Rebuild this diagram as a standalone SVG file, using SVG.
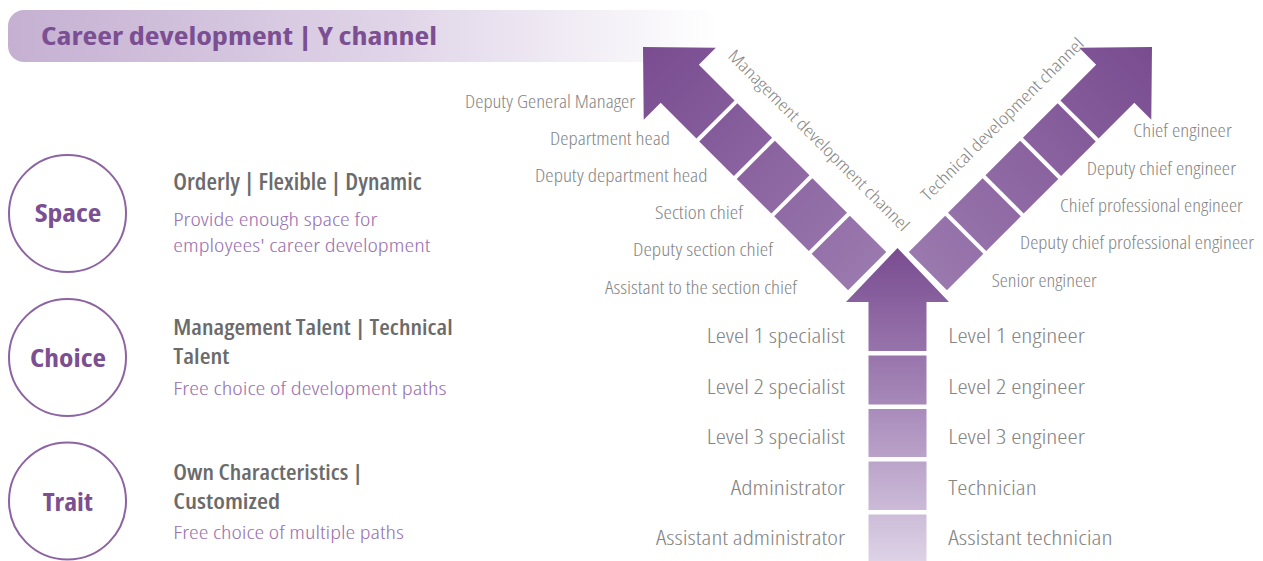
<svg xmlns="http://www.w3.org/2000/svg" width="1263" height="561" viewBox="0 0 1263 561">
<defs>
<linearGradient id="barGrad" x1="8" y1="0" x2="718" y2="0" gradientUnits="userSpaceOnUse">
<stop offset="0" stop-color="#c5b0d2"/>
<stop offset="0.55" stop-color="#e0d5e8"/>
<stop offset="1" stop-color="#ffffff"/>
</linearGradient>
<linearGradient id="diagGrad" x1="0" y1="0" x2="317" y2="0" gradientUnits="userSpaceOnUse">
<stop offset="0" stop-color="#794c90"/>
<stop offset="1" stop-color="#9a79ae"/>
</linearGradient>
<linearGradient id="vertGrad" x1="0" y1="248" x2="0" y2="561" gradientUnits="userSpaceOnUse">
<stop offset="0" stop-color="#794c90"/>
<stop offset="0.45" stop-color="#a282b5"/>
<stop offset="1" stop-color="#ddd2e6"/>
</linearGradient>
<g id="diagArrow">
<polygon points="0,0 52,-51 52,-27 102.5,-27 102.5,27 52,27 52,51"/>
<rect x="106.5" y="-27" width="49" height="54"/>
<rect x="159.5" y="-27" width="49" height="54"/>
<rect x="212.5" y="-27" width="49" height="54"/>
<rect x="265.5" y="-27" width="51.5" height="54"/>
</g>
</defs>
<style>
text{font-stretch:75%;font-family:"Open Sans","Liberation Sans",sans-serif}
.title{font-weight:700;font-size:25px;fill:#7b4f92}
.lbl{font-weight:300;font-size:19px;fill:#858585}
.lvl{font-weight:300;font-size:20.5px;fill:#858585}
.chan{font-weight:300;font-size:17px;fill:#858585}
.circ{fill:none;stroke:#8c63a3;stroke-width:2}
.clbl{font-weight:700;font-size:25px;fill:#7b4f92;text-anchor:middle;font-stretch:87.5%}
.head{font-weight:600;font-size:23px;fill:#6b6b6b}
.head2{font-weight:600;font-size:22px;fill:#6b6b6b}
.sub{font-weight:300;font-size:19px;fill:#9a72b1}
.end{text-anchor:end}
</style>
<rect width="1263" height="561" fill="#ffffff"/>

<g id="title">
<rect x="8" y="10" width="710" height="52" rx="16" fill="url(#barGrad)"/>
<text class="title" x="41" y="45" textLength="396" lengthAdjust="spacingAndGlyphs">Career development | Y channel</text>
</g>

<g id="connectors">
<g id="management-arrow" fill="url(#diagGrad)">
<use href="#diagArrow" transform="translate(643,47) rotate(45)"/>
</g>
<g id="technical-arrow" fill="url(#diagGrad)">
<use href="#diagArrow" transform="translate(1795,0) scale(-1,1) translate(643,47) rotate(45)"/>
</g>
<g id="base-arrow" fill="url(#vertGrad)">
<polygon points="897.5,248 949,302 926.5,302 926.5,351 868.5,351 868.5,302 846,302"/>
<rect x="868.5" y="355.5" width="58" height="49"/>
<rect x="868.5" y="409" width="58" height="48"/>
<rect x="868.5" y="461.5" width="58" height="48.5"/>
<rect x="868.5" y="514.5" width="58" height="46.5"/>
</g>
<text class="chan" transform="translate(727,57) rotate(45)" textLength="248" lengthAdjust="spacingAndGlyphs">Management development channel</text>
<text class="chan" transform="translate(928,202) rotate(-45)" textLength="222" lengthAdjust="spacingAndGlyphs">Technical development channel</text>
</g>

<g id="management-labels">
<text class="lbl end" x="635" y="107.5" textLength="170" lengthAdjust="spacingAndGlyphs">Deputy General Manager</text>
<text class="lbl end" x="670" y="145" textLength="120" lengthAdjust="spacingAndGlyphs">Department head</text>
<text class="lbl end" x="707.5" y="181.5" textLength="172.5" lengthAdjust="spacingAndGlyphs">Deputy department head</text>
<text class="lbl end" x="743" y="218.5" textLength="88" lengthAdjust="spacingAndGlyphs">Section chief</text>
<text class="lbl end" x="773" y="256" textLength="140" lengthAdjust="spacingAndGlyphs">Deputy section chief</text>
<text class="lbl end" x="797" y="293.5" textLength="192" lengthAdjust="spacingAndGlyphs">Assistant to the section chief</text>
</g>

<g id="technical-labels">
<text class="lbl end" x="1231.7" y="137" textLength="98.4" lengthAdjust="spacingAndGlyphs">Chief engineer</text>
<text class="lbl end" x="1236" y="175" textLength="149.3" lengthAdjust="spacingAndGlyphs">Deputy chief engineer</text>
<text class="lbl end" x="1242.7" y="212" textLength="182.7" lengthAdjust="spacingAndGlyphs">Chief professional engineer</text>
<text class="lbl end" x="1254" y="249" textLength="234" lengthAdjust="spacingAndGlyphs">Deputy chief professional engineer</text>
<text class="lbl end" x="1096.7" y="287" textLength="105" lengthAdjust="spacingAndGlyphs">Senior engineer</text>
</g>

<g id="specialist-labels">
<text class="lvl end" x="845" y="342.5" textLength="138.3" lengthAdjust="spacingAndGlyphs">Level 1 specialist</text>
<text class="lvl end" x="845" y="393.5" textLength="138.3" lengthAdjust="spacingAndGlyphs">Level 2 specialist</text>
<text class="lvl end" x="845" y="444" textLength="138.3" lengthAdjust="spacingAndGlyphs">Level 3 specialist</text>
<text class="lvl end" x="845" y="495" textLength="114.3" lengthAdjust="spacingAndGlyphs">Administrator</text>
<text class="lvl end" x="845" y="545" textLength="189" lengthAdjust="spacingAndGlyphs">Assistant administrator</text>
</g>

<g id="engineer-labels">
<text class="lvl" x="948.3" y="342.5" textLength="136.7" lengthAdjust="spacingAndGlyphs">Level 1 engineer</text>
<text class="lvl" x="948.3" y="393.5" textLength="136.7" lengthAdjust="spacingAndGlyphs">Level 2 engineer</text>
<text class="lvl" x="948.3" y="444" textLength="136.7" lengthAdjust="spacingAndGlyphs">Level 3 engineer</text>
<text class="lvl" x="948.3" y="495" textLength="88.4" lengthAdjust="spacingAndGlyphs">Technician</text>
<text class="lvl" x="948.3" y="545" textLength="164.4" lengthAdjust="spacingAndGlyphs">Assistant technician</text>
</g>

<g id="space">
<circle class="circ" cx="67.5" cy="213.5" r="58.5"/>
<text class="clbl" x="68" y="221.7" textLength="66.7" lengthAdjust="spacingAndGlyphs">Space</text>
<text class="head" x="173.3" y="190" textLength="248.4" lengthAdjust="spacingAndGlyphs">Orderly | Flexible | Dynamic</text>
<text class="sub"><tspan x="173.3" y="225.5" textLength="204" lengthAdjust="spacingAndGlyphs">Provide enough space for</tspan><tspan x="173.3" y="251.5" textLength="257" lengthAdjust="spacingAndGlyphs">employees' career development</tspan></text>
</g>

<g id="choice">
<circle class="circ" cx="67.5" cy="357.5" r="58.5"/>
<text class="clbl" x="68" y="366.7" textLength="76" lengthAdjust="spacingAndGlyphs">Choice</text>
<text class="head2"><tspan x="173.3" y="334.5" textLength="279.3" lengthAdjust="spacingAndGlyphs">Management Talent | Technical</tspan><tspan x="173.3" y="364" textLength="56" lengthAdjust="spacingAndGlyphs">Talent</tspan></text>
<text class="sub" x="173.3" y="395" textLength="273.3" lengthAdjust="spacingAndGlyphs">Free choice of development paths</text>
</g>

<g id="trait">
<circle class="circ" cx="67.5" cy="501" r="58.5"/>
<text class="clbl" x="67.7" y="510.7" textLength="50" lengthAdjust="spacingAndGlyphs">Trait</text>
<text class="head2"><tspan x="173.3" y="479.5" textLength="189.3" lengthAdjust="spacingAndGlyphs">Own Characteristics |</tspan><tspan x="173.3" y="509" textLength="106.7" lengthAdjust="spacingAndGlyphs">Customized</tspan></text>
<text class="sub" x="173.3" y="539" textLength="230.7" lengthAdjust="spacingAndGlyphs">Free choice of multiple paths</text>
</g>
</svg>
